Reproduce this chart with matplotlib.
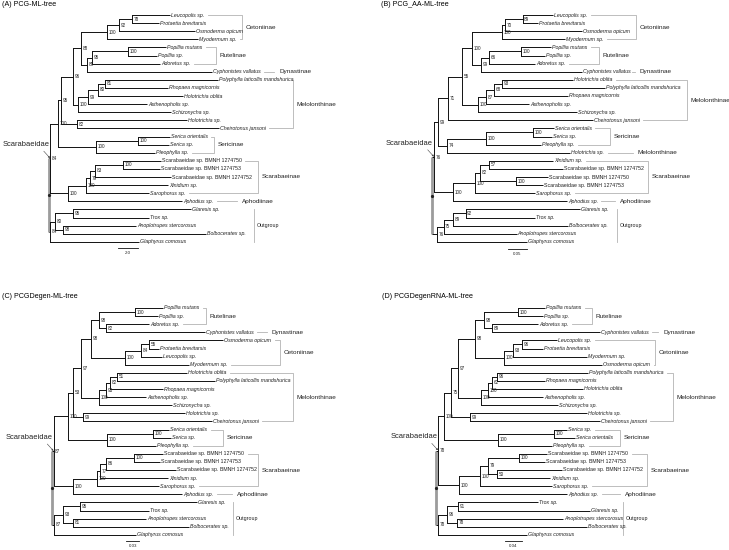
import matplotlib
matplotlib.use("Agg")
import matplotlib.pyplot as plt

plt.rcParams['font.family'] = ['Liberation Sans', 'DejaVu Sans']

W, H = 729, 550

TITLES = ["(A) PCG-ML-tree", "(B) PCG_AA-ML-tree",
          "(C) PCGDegen-ML-tree", "(D) PCGDegenRNA-ML-tree"]

# Trees in Newick form: branch lengths (substitutions/site) and bootstrap support
TREE_A = ("(((((((("
          "(Leucopolis sp.:3.8,Protaetia brevitarsis:2.7)78:1.3,"
          "Osmoderma opicum:7.6)92:1.2,"
          "Myodermum sp.:9.1)100:2.6,"
          "(((Popillia mutans:3.8,Popillia sp.:2.9)100:3.6,Adoretus sp.:6.8)95:0.5,Cyphonistes vallatus:12.5)89:0.6"
          ")88:0.8,"
          "((((Polyphylla laticollis mandshurica:11.3,Rhopaea magnicornis:6.3)81:0.7,Holotrichia oblita:8.5)80:1.0,"
          "Asthenopholis sp.:5.9)99:1.0,Schizonycha sp.:9.3)100:0.5"
          ")96:1.2,"
          "(Holotrichia sp.:11.0,Cheirotonus jansoni:14.2)82:1.6"
          ")95:0.3,"
          "((Serica orientalis:3.2,Serica sp.:3.1)100:4.2,Pleophylla sp.:5.9)100:3.8"
          ")100:0.8,"
          "(((((Scarabaeidae sp. BMNH 1274750:3.8,Scarabaeidae sp. BMNH 1274753:3.7)100:2.8,"
          "Scarabaeidae sp. BMNH 1274752:7.6)83:0.5,Xinidium sp.:7.8)79:0.4,Sarophorus sp.:6.3)100:1.8,"
          "Aphodius sp.:11.4)100:1.8"
          ")84:0.1,"
          "(((Glaresis sp.:11.8,Trox sp.:7.6)95:1.8,(Anoplotrupes stercorosus:7.3,Bolboceratex sp.:14.3)98:0.8)80:0.5,"
          "Glaphyrus comosus:8.9)84:0.1"
          ");")

TREE_B = ("(((((((("
          "(Leucopolis sp.:0.079,Protaetia brevitarsis:0.039)89:0.047,"
          "Osmoderma opicum:0.203)70:0.008,"
          "Myodermum sp.:0.166)100:0.079,"
          "(((Popillia mutans:0.079,Popillia sp.:0.063)100:0.084,Adoretus sp.:0.121)66:0.021,"
          "Cyphonistes vallatus:0.266)99:0.024"
          ")100:0.026,"
          "((((Holotrichia oblita:0.187,Polyphylla laticollis mandshurica:0.271)93:0.021,"
          "Rhopaea magnicornis:0.195)68:0.021,Asthenopholis sp.:0.113)87:0.021,Schizonycha sp.:0.261)100:0.042"
          ")55:0.037,"
          "Cheirotonus jansoni:0.382)71:0.026,"
          "(((Serica orientalis:0.053,Serica sp.:0.05)100:0.124,Pleophylla sp.:0.145)100:0.103,"
          "Holotrichia sp.:0.324)74:0.024"
          ")99:0.011,"
          "((((Xinidium sp.:0.168,Scarabaeidae sp. BMNH 1274752:0.195)57:0.024,"
          "(Scarabaeidae sp. BMNH 1274750:0.084,Scarabaeidae sp. BMNH 1274753:0.071)100:0.095)82:0.013,"
          "Sarophorus sp.:0.158)100:0.058,Aphodius sp.:0.3)100:0.05"
          ")76:0.005,"
          "((((Glaresis sp.:0.3,Trox sp.:0.182)92:0.034,Bolboceratex sp.:0.303)89:0.024,"
          "Anoplotrupes stercorosus:0.192)75:0.018,Glaphyrus comosus:0.237)76:0.013"
          ");")

TREE_C = ("((((((("
          "(Popillia mutans:0.0633,Popillia sp.:0.052)100:0.0814,"
          "(Adoretus sp.:0.0972,Cyphonistes vallatus:0.2237)82:0.0158)98:0.0181,"
          "(((Osmoderma opicum:0.1672,Protaetia brevitarsis:0.0226)55:0.0181,Leucopolis sp.:0.0475)84:0.0362,"
          "Myodermum sp.:0.1446)100:0.0768"
          ")98:0.0226,"
          "((((Holotrichia oblita:0.1582,Polyphylla laticollis mandshurica:0.2215)51:0.0158,"
          "Rhopaea magnicornis:0.1198)82:0.009,Asthenopholis sp.:0.0904)93:0.0158,Schizonycha sp.:0.165)100:0.0407"
          ")97:0.0181,"
          "(Holotrichia sp.:0.2305,Cheirotonus jansoni:0.2915)99:0.0226"
          ")53:0.0113,"
          "((Serica orientalis:0.0362,Serica sp.:0.0407)100:0.104,Pleophylla sp.:0.1107)100:0.0881"
          ")100:0.0328,"
          "(((((Scarabaeidae sp. BMNH 1274750:0.0655,Scarabaeidae sp. BMNH 1274753:0.0588)100:0.0633,"
          "Scarabaeidae sp. BMNH 1274752:0.1582)86:0.0136,Xinidium sp.:0.1537)77:0.0068,"
          "Sarophorus sp.:0.1401)100:0.0542,Aphodius sp.:0.2463)100:0.0441"
          ")87:0.0023,"
          "(((Glaresis sp.:0.2644,Trox sp.:0.1559)95:0.0384,"
          "(Anoplotrupes stercorosus:0.165,Bolboceratex sp.:0.2622)81:0.0226)93:0.0192,"
          "Glaphyrus comosus:0.1842)87:0.0045"
          ");")

TREE_D = ("((((((("
          "(Popillia mutans:0.0635,Popillia sp.:0.0588)100:0.0799,"
          "(Adoretus sp.:0.1081,Cyphonistes vallatus:0.2538)89:0.0188)98:0.0212,"
          "(((Leucopolis sp.:0.0823,Protaetia brevitarsis:0.0494)96:0.0212,Myodermum sp.:0.1739)93:0.0212,"
          "Osmoderma opicum:0.2303)100:0.0682"
          ")98:0.04,"
          "((((Polyphylla laticollis mandshurica:0.2139,Rhopaea magnicornis:0.1128)96:0.0118,"
          "Holotrichia oblita:0.2139)62:0.0094,Asthenopholis sp.:0.1293)100:0.0165,Schizonycha sp.:0.181)100:0.0541"
          ")97:0.0165,"
          "(Holotrichia sp.:0.275,Cheirotonus jansoni:0.3055)99:0.0447"
          ")75:0.0165,"
          "((Serica sp.:0.0306,Serica orientalis:0.0494)100:0.1316,Pleophylla sp.:0.1269)100:0.1269"
          ")100:0.0141,"
          "((((Scarabaeidae sp. BMNH 1274750:0.0658,Scarabaeidae sp. BMNH 1274753:0.0611)100:0.0729,"
          "(Scarabaeidae sp. BMNH 1274752:0.1528,Xinidium sp.:0.1246)50:0.0212)79:0.0188,"
          "Sarophorus sp.:0.1692)100:0.0494,Aphodius sp.:0.2538)100:0.0494"
          ")78:0.0047,"
          "(((Trox sp.:0.188,Glaresis sp.:0.3102)91:0.0259,"
          "(Anoplotrupes stercorosus:0.2491,Bolboceratex sp.:0.3055)78:0.0235)96:0.0212,"
          "Glaphyrus comosus:0.2092)78:0.0047"
          ");")

SCALE_VALUES = [2.0, 0.05, 0.03, 0.04]
SCALE_LABELS = ["2.0", "0.05", "0.03", "0.04"]

# clade annotations: (name, first leaf index, last leaf index)
CLADES_A = [("Cetoniinae", 0, 3), ("Rutelinae", 4, 6), ("Dynastinae", 7, 7),
            ("Melolonthinae", 8, 14), ("Sericinae", 15, 17), ("Scarabaeinae", 18, 22),
            ("Aphodiinae", 23, 23), ("Outgroup", 24, 28)]
CLADES_B = [("Cetoniinae", 0, 3), ("Rutelinae", 4, 6), ("Dynastinae", 7, 7),
            ("Melolonthinae", 8, 13), ("Sericinae", 14, 16), ("Melolonthinae", 17, 17),
            ("Scarabaeinae", 18, 22), ("Aphodiinae", 23, 23), ("Outgroup", 24, 28)]
CLADES_C = [("Rutelinae", 0, 2), ("Dynastinae", 3, 3), ("Cetoniinae", 4, 7),
            ("Melolonthinae", 8, 14), ("Sericinae", 15, 17), ("Scarabaeinae", 18, 22),
            ("Aphodiinae", 23, 23), ("Outgroup", 24, 28)]
CLADES_D = [("Rutelinae", 0, 2), ("Dynastinae", 3, 3), ("Cetoniinae", 4, 7),
            ("Melolonthinae", 8, 14), ("Sericinae", 15, 17), ("Scarabaeinae", 18, 22),
            ("Aphodiinae", 23, 23), ("Outgroup", 24, 28)]

# ---- layout (canvas pixel positions) ----
BRACKET_X = [
    [242, 216, 274, 293, 214, 258, 237, 254],
    [636, 599, 635, 687, 610, 633, 648, 615, 617],
    [206, 267, 280, 293, 223, 258, 232, 233],
    [592, 658, 655, 673, 620, 647, 620, 623],
]
PANELS = [
    dict(box=(0, 0, 364.5, 275), root_px=49, ppu=10.0, y0=15, sp=8.1,
         title_px=(2, 5), scale_px=(118, 248)),
    dict(box=(364.5, 0, 729, 275), root_px=432, ppu=380.0, y0=15, sp=8.1,
         title_px=(381, 5), scale_px=(508, 249)),
    dict(box=(0, 275, 364.5, 550), root_px=52.5, ppu=442.5, y0=308, sp=8.1,
         title_px=(2, 297), scale_px=(126, 541)),
    dict(box=(364.5, 275, 729, 550), root_px=436, ppu=425.5, y0=308, sp=8.1,
         title_px=(382, 297), scale_px=(505, 541)),
]
TREES = [TREE_A, TREE_B, TREE_C, TREE_D]
CLADES = [CLADES_A, CLADES_B, CLADES_C, CLADES_D]

FS_LEAF, FS_SUP, FS_CLADE, FS_OUT, FS_TITLE, FS_ROOT, FS_SCALE = 3.75, 3.3, 4.6, 3.9, 5.1, 5.4, 3.2
LINE_C = "#111111"
BRACKET_C = "#b3b3b3"


def parse_newick(s):
    s = s.strip().rstrip(';')
    pos = 0

    def node():
        nonlocal pos
        n = {'children': [], 'name': '', 'length': 0.0}
        if s[pos] == '(':
            pos += 1
            while True:
                n['children'].append(node())
                if s[pos] == ',':
                    pos += 1
                    continue
                if s[pos] == ')':
                    pos += 1
                    break
        start = pos
        while pos < len(s) and s[pos] not in ':,()':
            pos += 1
        n['name'] = s[start:pos].strip()
        if pos < len(s) and s[pos] == ':':
            pos += 1
            start = pos
            while pos < len(s) and s[pos] not in ',()':
                pos += 1
            n['length'] = float(s[start:pos])
        return n

    return node()


def layout(n, depth, leaves):
    n['x'] = depth + n['length']
    if not n['children']:
        n['y'] = float(len(leaves))
        leaves.append(n)
    else:
        for c in n['children']:
            layout(c, n['x'], leaves)
        n['y'] = (n['children'][0]['y'] + n['children'][-1]['y']) / 2.0


fig = plt.figure(figsize=(W / 100, H / 100), dpi=100)
panel_data = []

for k, cfg in enumerate(PANELS):
    l, t, r, b = cfg['box']
    ax = fig.add_axes([l / W, 1 - b / H, (r - l) / W, (b - t) / H])
    ax.set_axis_off()
    rx, ppu, y0, sp = cfg['root_px'], cfg['ppu'], cfg['y0'], cfg['sp']
    ax.set_xlim((l - rx) / ppu, (r - rx) / ppu)
    ax.set_ylim((b - y0) / sp, (t - y0) / sp)
    X = (lambda px, rx=rx, ppu=ppu: (px - rx) / ppu)
    Y = (lambda py, y0=y0, sp=sp: (py - y0) / sp)

    root = parse_newick(TREES[k])
    leaves = []
    layout(root, 0.0, leaves)

    def draw(n, is_root=False):
        if n['children']:
            ys = [n['children'][0]['y'], n['children'][-1]['y']]
            if is_root:
                ax.plot([n['x'], n['x']], ys, color="#9c9c9c", lw=2.0,
                        solid_capstyle='butt', zorder=1)
            else:
                ax.plot([n['x'], n['x']], ys, color=LINE_C, lw=0.7,
                        solid_capstyle='projecting', zorder=2)
            for c in n['children']:
                ax.plot([n['x'], c['x']], [c['y'], c['y']], color=LINE_C, lw=0.7,
                        solid_capstyle='butt', zorder=2)
                draw(c)
            if not is_root and n['name']:
                ax.annotate(n['name'], (n['x'], n['y']), xytext=(1.0, 0),
                            textcoords='offset points', fontsize=FS_SUP,
                            va='center', ha='left', color='#222222')

    draw(root, is_root=True)
    ax.plot([root['x']], [root['y']], 'o', ms=1.3, color='#222222', zorder=3)

    texts = []
    for lf in leaves:
        style = 'normal' if lf['name'].startswith('Scarabaeidae') else 'italic'
        tx = ax.annotate(lf['name'], (lf['x'], lf['y']), xytext=(0.7, 0),
                         textcoords='offset points', fontsize=FS_LEAF,
                         va='center', ha='left', style=style, color='#222222')
        texts.append(tx)

    # Scarabaeidae node marker
    S = root['children'][0]
    ax.annotate('', xy=(S['x'], S['y'] - 0.05), xytext=(-4.5, 5.0),
                textcoords='offset points',
                arrowprops=dict(arrowstyle='-|>', lw=0.4, color='#444444',
                                mutation_scale=2.5, shrinkA=0, shrinkB=0))
    ax.annotate('Scarabaeidae', (S['x'], S['y']), xytext=(-0.6, 10.0),
                textcoords='offset points', fontsize=FS_ROOT, ha='right',
                va='center', color='#222222')

    # scale bar
    sx, sy = cfg['scale_px']
    ax.plot([X(sx), X(sx) + SCALE_VALUES[k]], [Y(sy), Y(sy)], color=LINE_C, lw=0.6)
    ax.text(X(sx) + SCALE_VALUES[k] / 2, Y(sy + 5), SCALE_LABELS[k],
            fontsize=FS_SCALE, ha='center', va='center', color='#222222')

    # title
    tx_, ty_ = cfg['title_px']
    ax.text(X(tx_), Y(ty_), TITLES[k], fontsize=FS_TITLE, ha='left', va='center')

    panel_data.append((ax, X, Y, texts, leaves))

fig.canvas.draw()
renderer = fig.canvas.get_renderer()

for k, (ax, X, Y, texts, leaves) in enumerate(panel_data):

    def end_px(i):
        bb = texts[i].get_window_extent(renderer)
        return bb.x1

    for (name, i0, i1), bx in zip(CLADES[k], BRACKET_X[k]):
        y_a, y_b = leaves[i0]['y'], leaves[i1]['y']
        ym = (y_a + y_b) / 2
        if name == 'Outgroup':
            ax.plot([X(bx), X(bx)], [y_a, y_b], color=BRACKET_C, lw=0.6)
            ax.text(X(bx + 3), ym, name, fontsize=FS_OUT, va='center', ha='left',
                    color='#222222')
        elif i0 == i1:
            e = min(end_px(i0) + 3.5, bx - 3)
            ax.plot([X(e), X(bx)], [y_a, y_a], color=BRACKET_C, lw=0.6)
            ax.text(X(bx + 5), ym, name, fontsize=FS_CLADE, va='center', ha='left',
                    color='#222222')
        else:
            e0 = min(end_px(i0) + 3.5, bx - 1)
            e1 = min(end_px(i1) + 3.5, bx - 1)
            ax.plot([X(e0), X(bx), X(bx), X(e1)], [y_a, y_a, y_b, y_b],
                    color=BRACKET_C, lw=0.6)
            ax.text(X(bx + 3.5), ym, name, fontsize=FS_CLADE, va='center', ha='left',
                    color='#222222')

fig.savefig("out.png", dpi=100)
